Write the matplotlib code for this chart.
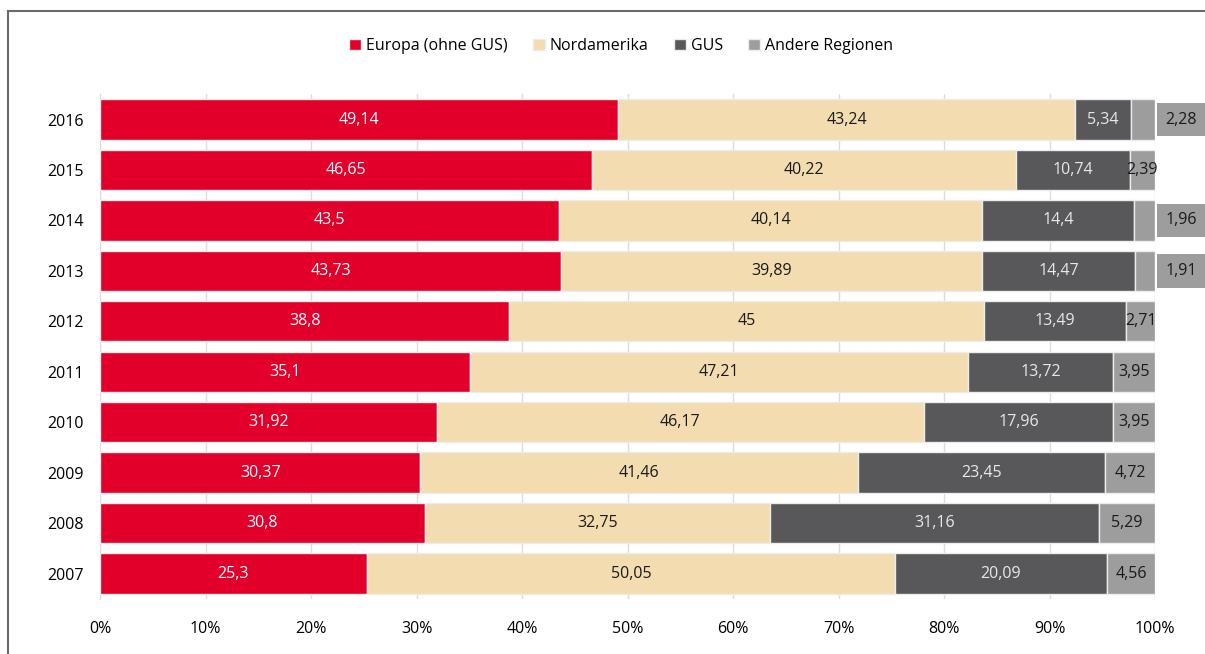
import matplotlib.pyplot as plt
import numpy as np
from matplotlib.lines import Line2D

plt.rcParams['font.family'] = ['Open Sans', 'DejaVu Sans']

# Datos (Anteile in %)
jahre = ['2016', '2015', '2014', '2013', '2012', '2011', '2010', '2009', '2008', '2007']
europa = [49.14, 46.65, 43.5, 43.73, 38.8, 35.1, 31.92, 30.37, 30.8, 25.3]
nordamerika = [43.24, 40.22, 40.14, 39.89, 45, 47.21, 46.17, 41.46, 32.75, 50.05]
gus = [5.34, 10.74, 14.4, 14.47, 13.49, 13.72, 17.96, 23.45, 31.16, 20.09]
andere = [2.28, 2.39, 1.96, 1.91, 2.71, 3.95, 3.95, 4.72, 5.29, 4.56]

serien = ['Europa (ohne GUS)', 'Nordamerika', 'GUS', 'Andere Regionen']
farben = ['#E2002A', '#F2DCB0', '#58585A', '#9D9D9D']
textfarben = ['white', '#1a1a1a', '#e8e8e8', '#1a1a1a']
# Jahre mit Beschriftung außerhalb
aussen = ['2016', '2014', '2013']

fig = plt.figure(figsize=(12.05, 6.54), dpi=100)
ax = fig.add_axes([100 / 1205, 0.0845, 1055 / 1205, 0.8558 - 0.0845])

y = np.arange(len(jahre))[::-1]
links = np.zeros(len(jahre))
for name, werte, farbe, tf in zip(serien, [europa, nordamerika, gus, andere], farben, textfarben):
    werte = np.array(werte)
    bars = ax.barh(y, werte, left=links, height=0.8, color=farbe, edgecolor='#ececec',
                   linewidth=1, label=name, zorder=3)
    for i, b in enumerate(bars):
        txt = f'{werte[i]:g}'.replace('.', ',')
        if name == 'Andere Regionen' and jahre[i] in aussen:
            ax.annotate(txt, xy=(100, y[i]), xytext=(19, 0), textcoords='offset points',
                        ha='center', va='center', fontsize=11.5, color='#1a1a1a',
                        bbox=dict(boxstyle='square,pad=0.55', fc=farbe, ec='none'),
                        annotation_clip=False, zorder=4)
        else:
            ax.text(links[i] + werte[i] / 2, y[i], txt, ha='center', va='center',
                    fontsize=11.5, color=tf, zorder=4)
    links = links + werte

ax.set_xlim(0, 100)
ax.set_ylim(-0.5, len(jahre) - 0.5)
ax.set_yticks(y)
ax.set_yticklabels(jahre, fontsize=11.5)
ax.set_xticks(np.arange(0, 101, 10))
ax.set_xticklabels([f'{v}%' for v in range(0, 101, 10)], fontsize=11.5)
ax.tick_params(axis='x', length=0, pad=16)
ax.tick_params(axis='y', length=0, pad=12)
ax.xaxis.grid(True, color='#dcdcdc', linewidth=1, zorder=0)
for s in ['top', 'right', 'bottom']:
    ax.spines[s].set_visible(False)
ax.spines['left'].set_color('#dcdcdc')

fig.legend(loc='center', bbox_to_anchor=(621 / 1205, 1 - 46 / 654), ncol=4, frameon=False,
           fontsize=11.5, handlelength=0.75, handleheight=0.75, handletextpad=0.3,
           columnspacing=1.6)

# Rahmen (oben und links)
x0 = 8 / 1205
y0 = 1 - 11 / 654
fig.add_artist(Line2D([x0, 1.0], [y0, y0], transform=fig.transFigure, color='#6a6a6a', lw=1.5))
fig.add_artist(Line2D([x0, x0], [0, y0], transform=fig.transFigure, color='#6a6a6a', lw=1.5))

plt.savefig('out.png', dpi=100)
